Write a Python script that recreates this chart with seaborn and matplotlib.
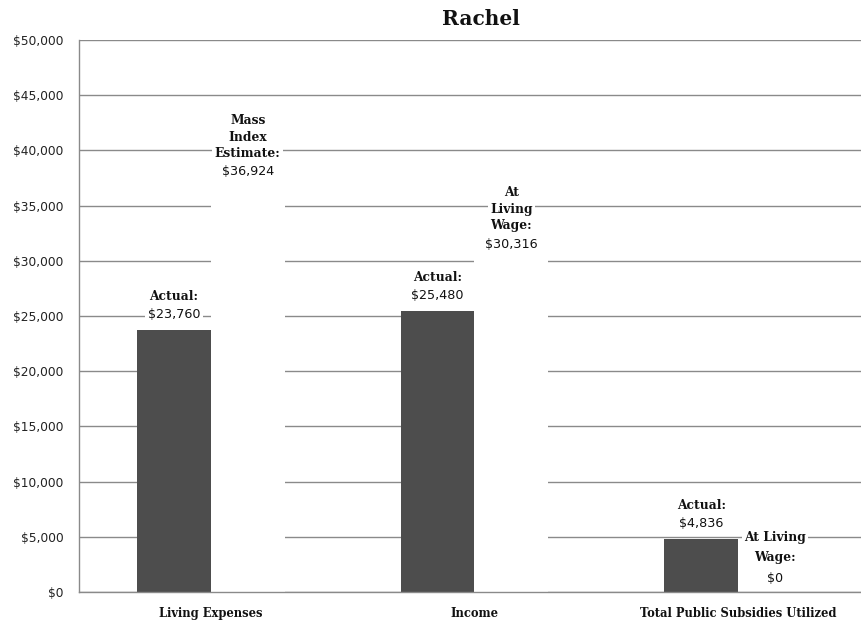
import matplotlib
matplotlib.use("Agg")
import matplotlib.pyplot as plt
import seaborn as sns
import pandas as pd

categories = ["Living Expenses", "Income", "Total Public Subsidies Utilized"]
actual_values = [23760, 25480, 4836]
benchmark_values = [36924, 30316, 0]
benchmark_names = ["Mass\nIndex\nEstimate:", "At\nLiving\nWage:", "At Living\nWage:"]
y_ticks = list(range(0, 50001, 5000))

df = pd.DataFrame({
    "category": categories * 2,
    "series": ["Actual"] * 3 + ["Benchmark"] * 3,
    "value": actual_values + benchmark_values,
})

sns.set_theme(style="white")
fig = plt.figure(figsize=(8.62, 6.26), dpi=100)
ax = fig.add_axes([79 / 862, 1 - 592 / 626, (862 - 79) / 862, 552 / 626])

sns.barplot(data=df, x="category", y="value", hue="series", order=categories,
            palette=["#4d4d4d", "#ffffff"], width=0.56, saturation=1,
            edgecolor="none", linewidth=0, legend=False, ax=ax)

ax.set_ylim(0, 50000)
ax.set_xlim(-0.5, 2.47)
ax.set_yticks(y_ticks)
ax.set_yticklabels([f"${t:,.0f}" for t in y_ticks], fontsize=8.8,
                   color="#222222", family="DejaVu Sans")
ax.set_xticks(range(len(categories)))
ax.set_xticklabels(categories, fontsize=8.3, fontweight="bold",
                   family="DejaVu Serif", color="#111111")
ax.tick_params(axis="y", length=0, pad=11)
ax.tick_params(axis="x", length=0, pad=11)
ax.set_xlabel("")
ax.set_ylabel("")
ax.set_axisbelow(True)
ax.yaxis.grid(True, color="#8a8a8a", linewidth=1.0)
ax.xaxis.grid(False)
for side in ["top", "right"]:
    ax.spines[side].set_visible(False)
for side in ["left", "bottom"]:
    ax.spines[side].set_color("#8a8a8a")
    ax.spines[side].set_linewidth(1.0)

fig.text(481 / 862, 1 - 19 / 626, "Rachel", ha="center", va="center",
         fontsize=14.5, fontweight="bold", family="DejaVu Serif", color="#111111")

box = dict(boxstyle="square,pad=0.2", facecolor="white", edgecolor="none")

def label_bar(patch, header, value, value_gap, header_gap, spacing):
    x = patch.get_x() + patch.get_width() / 2
    top = patch.get_height()
    ax.annotate(f"${value:,.0f}", (x, top), xytext=(0, value_gap),
                textcoords="offset pixels", ha="center", va="center",
                fontsize=9.2, family="DejaVu Sans", color="#111111", bbox=box,
                zorder=5)
    ax.annotate(header, (x, top), xytext=(0, header_gap),
                textcoords="offset pixels", ha="center", va="bottom",
                fontsize=8.8, fontweight="bold", family="DejaVu Serif",
                color="#111111", linespacing=spacing, bbox=box, zorder=5)

actual_bars = ax.patches[:3]
bench_bars = ax.patches[3:6]
for patch, v in zip(actual_bars, actual_values):
    label_bar(patch, "Actual:", v, 15, 27, 1.3)
header_gaps = [24, 25, 28]
spacings = [1.35, 1.35, 1.75]
for patch, v, name, gap, sp in zip(bench_bars, benchmark_values, benchmark_names,
                                   header_gaps, spacings):
    label_bar(patch, name, v, 13, gap, sp)

fig.savefig("out.png", dpi=100)
